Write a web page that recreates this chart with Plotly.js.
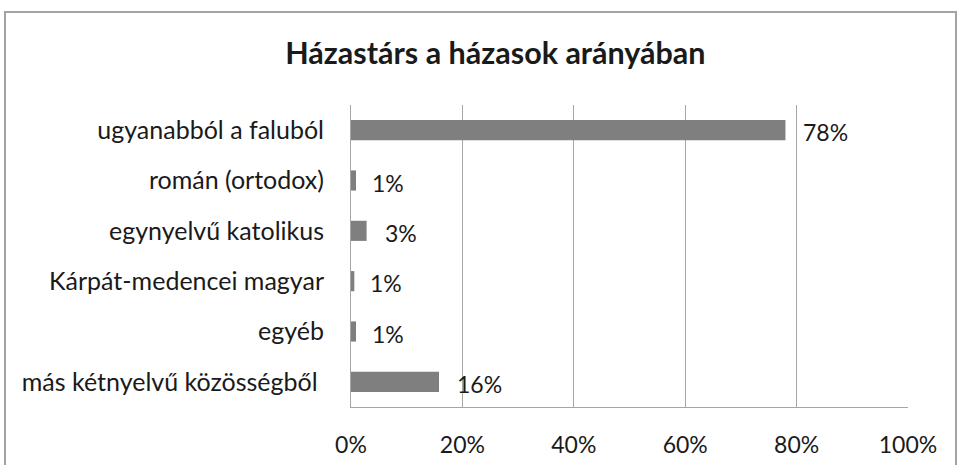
<!DOCTYPE html>
<html>
<head>
<meta charset="utf-8">
<script src="https://cdn.plot.ly/plotly-3.0.1.min.js"></script>
<style>
  html, body { margin: 0; padding: 0; background: #fff; }
  #wrap { position: relative; width: 960px; height: 465px; overflow: hidden; }
  #chart { width: 960px; height: 465px; }
  #frame { position: absolute; left: 4px; top: 11px; width: 949px; height: 480px;
           border: 2px solid #a3a3a3; pointer-events: none; }
</style>
</head>
<body>
<div id="wrap">
  <div id="chart"></div>
  <div id="frame"></div>
</div>
<script>
const categories = [
  "ugyanabból a faluból",
  "román (ortodox)",
  "egynyelvű katolikus",
  "Kárpát-medencei magyar",
  "egyéb",
  "más kétnyelvű közösségből\u00a0"
];
const values = [78, 0.9, 2.8, 0.6, 0.9, 15.8];
const valueLabels = ["78%", "1%", "3%", "1%", "1%", "16%"];
const labelShift = [16, 14, 16, 14, 14, 16];
const xTicks = [0, 20, 40, 60, 80, 100];
const xTickText = ["0%", "20%", "40%", "60%", "80%", "100%"];

const font = "Lato, 'Open Sans', 'Liberation Sans', sans-serif";

const trace = {
  type: "bar",
  orientation: "h",
  y: categories,
  x: values,
  marker: { color: "#7f7f7f" },
  hoverinfo: "none"
};

const annotations = values.map((v, i) => ({
  x: v, y: categories[i], xref: "x", yref: "y",
  text: valueLabels[i], showarrow: false,
  xanchor: "left", yanchor: "middle", xshift: labelShift[i], yshift: -2,
  font: { family: font, size: 23, color: "#1a1a1a" }
}));

const layout = {
  width: 960, height: 465,
  margin: { l: 351, r: 52, t: 105, b: 58 },
  paper_bgcolor: "#ffffff",
  plot_bgcolor: "#ffffff",
  title: {
    text: "<b>Házastárs a házasok arányában</b>",
    font: { family: font, size: 30.5, color: "#1a1a1a" },
    x: 0.516, xanchor: "center", y: 0.885, yanchor: "middle"
  },
  bargap: 0.6,
  showlegend: false,
  xaxis: {
    range: [0, 100],
    tickvals: xTicks, ticktext: xTickText,
    showgrid: true, gridcolor: "#a6a6a6", gridwidth: 1,
    showline: true, linecolor: "#a6a6a6", linewidth: 1,
    zeroline: false, ticks: "",
    ticklabelstandoff: 17,
    tickfont: { family: font, size: 23, color: "#1a1a1a" },
    fixedrange: true
  },
  yaxis: {
    categoryorder: "array", categoryarray: categories,
    autorange: "reversed",
    showgrid: false,
    showline: true, linecolor: "#a6a6a6", linewidth: 1,
    ticks: "", ticklabelstandoff: 21,
    tickfont: { family: font, size: 25, color: "#1a1a1a" },
    fixedrange: true
  },
  annotations: annotations
};

Plotly.newPlot("chart", [trace], layout, { displayModeBar: false, staticPlot: true });
</script>
</body>
</html>
